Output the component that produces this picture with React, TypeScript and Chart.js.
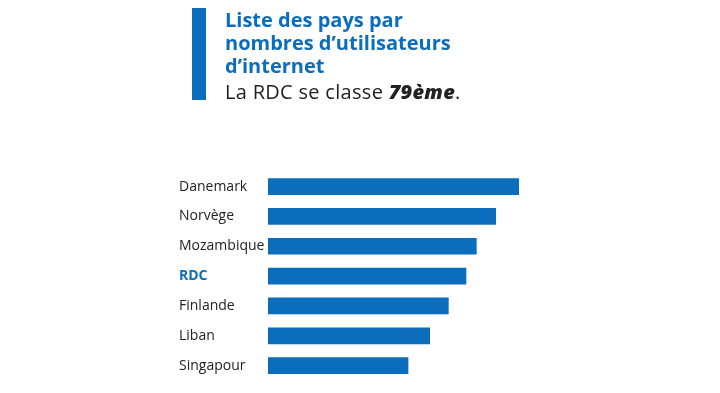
import React, { useEffect, useRef } from "react";
import { Chart, registerables } from "chart.js";

Chart.register(...registerables);

const countries = ["Danemark", "Norvège", "Mozambique", "RDC", "Finlande", "Liban", "Singapour"];
const values = [99.6, 90.5, 82.8, 78.7, 71.7, 64.3, 55.7];
const highlightCountry = "RDC";
const titleLines = ["Liste des pays par", "nombres d’utilisateurs", "d’internet"];
const rankText = "79ème";

const BLUE = "#0c6dbd";
const FONT = "'Open Sans', 'Noto Sans', sans-serif";

export default function App() {
  const ref = useRef<HTMLCanvasElement | null>(null);

  useEffect(() => {
    document.body.style.margin = "0";
    const canvas = ref.current;
    if (!canvas) return;
    const chart = new Chart(canvas, {
      type: "bar",
      data: {
        labels: countries,
        datasets: [
          {
            data: values,
            backgroundColor: BLUE,
            borderWidth: 0,
            barPercentage: 0.56,
            categoryPercentage: 1,
          },
        ],
      },
      options: {
        indexAxis: "y",
        responsive: false,
        animation: false,
        layout: { padding: { top: 171.6, bottom: 10.2, left: 179, right: 200 } },
        plugins: { legend: { display: false }, tooltip: { enabled: false }, title: { display: false } },
        scales: {
          x: { display: false, min: 0, max: 100 },
          y: {
            grid: { display: false, drawTicks: false },
            border: { display: false },
            afterFit: (s: any) => {
              s.width = 89;
            },
            ticks: {
              crossAlign: "far",
              padding: 4,
              color: (ctx: any) => (countries[ctx.index] === highlightCountry ? BLUE : "#222"),
              font: (ctx: any) => ({
                family: FONT,
                size: 14,
                weight: countries[ctx.index] === highlightCountry ? "bold" : "normal",
              }),
            },
          },
        },
      },
    });
    return () => chart.destroy();
  }, []);

  return (
    <div style={{ position: "relative", width: 720, height: 393, background: "#fff", overflow: "hidden" }}>
      <canvas ref={ref} width={720} height={393} style={{ position: "absolute", left: 0, top: 0 }} />
      <div style={{ position: "absolute", left: 192, top: 8, width: 14, height: 92, background: BLUE }} />
      <div
        style={{
          position: "absolute",
          left: 225,
          top: 8,
          fontFamily: FONT,
          fontWeight: 700,
          fontSize: 20,
          lineHeight: "23px",
          color: BLUE,
          whiteSpace: "nowrap",
        }}
      >
        {titleLines.map((l, i) => (
          <div key={i}>{l}</div>
        ))}
      </div>
      <div
        style={{
          position: "absolute",
          left: 225,
          top: 80,
          fontFamily: FONT,
          fontSize: 20,
          lineHeight: "23px",
          letterSpacing: "0.3px",
          color: "#222",
          whiteSpace: "nowrap",
        }}
      >
        La RDC se classe <b style={{ fontStyle: "italic", fontWeight: 800 }}>{rankText}</b>.
      </div>
    </div>
  );
}
